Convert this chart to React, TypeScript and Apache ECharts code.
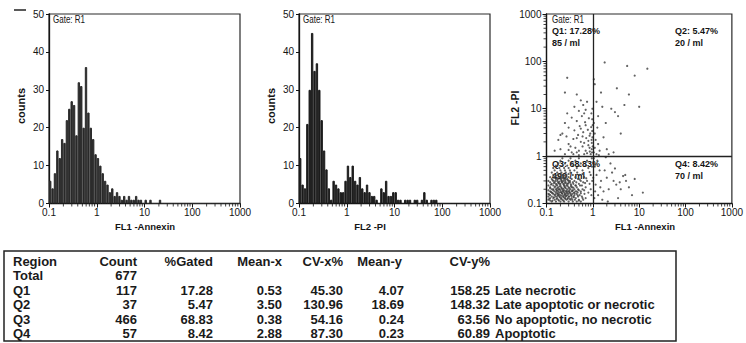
import React, { useEffect, useRef } from 'react';
import * as echarts from 'echarts';

// ---- Histogram data: counts per bin, 20 bins per decade from 0.1 to 1000 ----
const annexinCounts = [
  6, 4, 8, 14, 12, 17, 16, 22, 25, 27,
  26, 18, 32, 31, 20, 36, 24, 20, 17, 13,
  12, 10, 8, 6, 5, 3, 4, 2, 3, 2,
  1, 2, 1, 2, 1, 1, 2, 1, 1, 0,
  1, 0, 1, 0, 0, 0, 1, 0, 0, 0,
  0, 0, 0, 0, 0, 0, 0, 0, 0, 0,
  0, 0, 0, 0, 0, 0, 0, 0, 0, 0,
  0, 0, 0, 0, 0, 0, 0, 0, 0, 0,
];
const piCounts = [
  12, 5, 4, 21, 30, 45, 35, 37, 30, 22,
  14, 9, 4, 1, 6, 5, 4, 3, 3, 6,
  10, 7, 10, 6, 5, 7, 4, 3, 5, 3,
  2, 2, 1, 0, 4, 3, 6, 2, 2, 3,
  3, 1, 1, 0, 1, 1, 1, 0, 1, 1,
  0, 1, 3, 1, 0, 1, 1, 1, 0, 0,
  0, 0, 0, 0, 0, 0, 0, 0, 0, 0,
  0, 0, 0, 0, 0, 0, 0, 0, 0, 0,
];
const countTicks = [0, 10, 20, 30, 40, 50];
const logTickLabels = ['0.1', '1', '10', '100', '1000'];
const minorTickValues = [
  0.2, 0.3, 0.4, 0.5, 0.6, 0.7, 0.8, 0.9,
  2, 3, 4, 5, 6, 7, 8, 9,
  20, 30, 40, 50, 60, 70, 80, 90,
  200, 300, 400, 500, 600, 700, 800, 900,
];

// ---- Dot plot events (FL1 Annexin, FL2 PI) ----
const q3Events = [
  [0.13, 0.11], [0.16, 0.11], [0.2, 0.11], [0.24, 0.11], [0.3, 0.11], [0.37, 0.11], [0.45, 0.11], [0.55, 0.11],
  [0.11, 0.12], [0.15, 0.12], [0.18, 0.12], [0.22, 0.12], [0.27, 0.12], [0.33, 0.12], [0.41, 0.12], [0.5, 0.12], [0.62, 0.12],
  [0.12, 0.13], [0.14, 0.13], [0.17, 0.13], [0.21, 0.13], [0.25, 0.13], [0.29, 0.13], [0.35, 0.13], [0.43, 0.13], [0.7, 0.13],
  [0.11, 0.14], [0.13, 0.14], [0.16, 0.14], [0.19, 0.14], [0.23, 0.14], [0.26, 0.14], [0.31, 0.14], [0.38, 0.14], [0.48, 0.14], [0.58, 0.14],
  [0.12, 0.15], [0.15, 0.15], [0.18, 0.15], [0.2, 0.15], [0.24, 0.15], [0.28, 0.15], [0.34, 0.15], [0.4, 0.15], [0.52, 0.15],
  [0.11, 0.16], [0.14, 0.16], [0.17, 0.16], [0.22, 0.16], [0.25, 0.16], [0.3, 0.16], [0.36, 0.16], [0.44, 0.16], [0.66, 0.16],
  [0.13, 0.17], [0.16, 0.17], [0.19, 0.17], [0.21, 0.17], [0.27, 0.17], [0.32, 0.17], [0.39, 0.17], [0.47, 0.17], [0.8, 0.17],
  [0.12, 0.18], [0.15, 0.18], [0.18, 0.18], [0.23, 0.18], [0.26, 0.18], [0.29, 0.18], [0.35, 0.18], [0.42, 0.18], [0.55, 0.18],
  [0.11, 0.19], [0.14, 0.19], [0.17, 0.19], [0.2, 0.19], [0.24, 0.19], [0.31, 0.19], [0.37, 0.19], [0.5, 0.19],
  [0.13, 0.2], [0.16, 0.2], [0.19, 0.2], [0.22, 0.2], [0.28, 0.2], [0.33, 0.2], [0.4, 0.2], [0.6, 0.2], [0.9, 0.2],
  [0.12, 0.22], [0.15, 0.22], [0.18, 0.22], [0.21, 0.22], [0.25, 0.22], [0.3, 0.22], [0.36, 0.22], [0.45, 0.22], [0.7, 0.22],
  [0.11, 0.24], [0.14, 0.24], [0.17, 0.24], [0.2, 0.24], [0.24, 0.24], [0.27, 0.24], [0.34, 0.24], [0.42, 0.24], [0.53, 0.24],
  [0.13, 0.26], [0.16, 0.26], [0.19, 0.26], [0.23, 0.26], [0.29, 0.26], [0.38, 0.26], [0.5, 0.26], [0.85, 0.26],
  [0.12, 0.28], [0.15, 0.28], [0.18, 0.28], [0.22, 0.28], [0.26, 0.28], [0.32, 0.28], [0.44, 0.28], [0.62, 0.28],
  [0.11, 0.3], [0.14, 0.3], [0.17, 0.3], [0.21, 0.3], [0.25, 0.3], [0.3, 0.3], [0.4, 0.3], [0.55, 0.3], [0.75, 0.3],
  [0.13, 0.33], [0.16, 0.33], [0.2, 0.33], [0.24, 0.33], [0.28, 0.33], [0.35, 0.33], [0.48, 0.33],
  [0.12, 0.36], [0.15, 0.36], [0.19, 0.36], [0.23, 0.36], [0.3, 0.36], [0.42, 0.36], [0.65, 0.36],
  [0.14, 0.4], [0.18, 0.4], [0.22, 0.4], [0.27, 0.4], [0.37, 0.4], [0.52, 0.4], [0.9, 0.4],
  [0.13, 0.45], [0.17, 0.45], [0.21, 0.45], [0.26, 0.45], [0.33, 0.45], [0.46, 0.45],
  [0.15, 0.5], [0.2, 0.5], [0.25, 0.5], [0.32, 0.5], [0.6, 0.5],
  [0.14, 0.56], [0.19, 0.56], [0.24, 0.56], [0.3, 0.56], [0.45, 0.56], [0.8, 0.56],
  [0.16, 0.63], [0.22, 0.63], [0.28, 0.63], [0.38, 0.63], [0.7, 0.63],
  [0.18, 0.7], [0.25, 0.7], [0.35, 0.7], [0.55, 0.7],
  [0.2, 0.8], [0.3, 0.8], [0.42, 0.8], [0.75, 0.8],
  [0.22, 0.9], [0.33, 0.9], [0.5, 0.9], [0.95, 0.9],
];
const q3CoreEvents = [
  [0.115, 0.125], [0.135, 0.115], [0.145, 0.135], [0.165, 0.125], [0.175, 0.145], [0.185, 0.115], [0.195, 0.135],
  [0.205, 0.125], [0.215, 0.145], [0.23, 0.115], [0.235, 0.135], [0.255, 0.125], [0.265, 0.145], [0.285, 0.125],
  [0.3, 0.14], [0.32, 0.125], [0.345, 0.145], [0.36, 0.12], [0.39, 0.135], [0.115, 0.155], [0.125, 0.175],
  [0.135, 0.165], [0.155, 0.155], [0.165, 0.185], [0.175, 0.165], [0.185, 0.155], [0.205, 0.175], [0.215, 0.165],
  [0.225, 0.185], [0.24, 0.17], [0.255, 0.155], [0.27, 0.185], [0.28, 0.165], [0.31, 0.175], [0.33, 0.16],
  [0.36, 0.185], [0.4, 0.165], [0.45, 0.18], [0.12, 0.21], [0.14, 0.2], [0.155, 0.23], [0.17, 0.21],
  [0.185, 0.2], [0.195, 0.23], [0.21, 0.21], [0.23, 0.205], [0.245, 0.23], [0.26, 0.21], [0.285, 0.235],
  [0.31, 0.21], [0.34, 0.225], [0.38, 0.215], [0.43, 0.24], [0.125, 0.25], [0.145, 0.27], [0.165, 0.25],
  [0.18, 0.27], [0.2, 0.26], [0.215, 0.28], [0.235, 0.25], [0.25, 0.27], [0.275, 0.26], [0.3, 0.275],
  [0.335, 0.255], [0.37, 0.28], [0.135, 0.31], [0.155, 0.3], [0.175, 0.32], [0.19, 0.29], [0.21, 0.31],
  [0.23, 0.3], [0.26, 0.32], [0.29, 0.31], [0.32, 0.3], [0.145, 0.35], [0.17, 0.34], [0.2, 0.36],
  [0.215, 0.34], [0.25, 0.35], [0.27, 0.37], [0.16, 0.39], [0.2, 0.42], [0.24, 0.39], [0.3, 0.42],
  [0.12, 0.115], [0.5, 0.115], [0.6, 0.13], [0.47, 0.15], [0.55, 0.165], [0.65, 0.19], [0.48, 0.2],
  [0.58, 0.24], [0.68, 0.27], [0.52, 0.32], [0.72, 0.34], [0.6, 0.42], [0.4, 0.5], [0.5, 0.62],
  [0.85, 0.46], [0.96, 0.6], [0.97, 0.3], [0.93, 0.15],
];
const q1Events = [
  [0.25, 1.1], [0.35, 1.2], [0.5, 1.05], [0.7, 1.3], [0.9, 1.1], [0.2, 1.4], [0.42, 1.5], [0.6, 1.6],
  [0.8, 1.7], [0.3, 1.8], [0.55, 2], [0.95, 1.9], [0.18, 2.2], [0.38, 2.3], [0.72, 2.4], [0.27, 2.6],
  [0.48, 2.8], [0.85, 2.7], [0.22, 3], [0.62, 3.2], [0.4, 3.5], [0.78, 3.6], [0.3, 4], [0.52, 4.3],
  [0.92, 4.1], [0.25, 5], [0.45, 5.5], [0.68, 5.2], [0.35, 6.5], [0.58, 7], [0.82, 6.3], [0.28, 8],
  [0.5, 9], [0.7, 9.5], [0.4, 11], [0.62, 12], [0.55, 15], [0.75, 14], [0.45, 20], [0.25, 22],
  [0.28, 45], [0.65, 8], [0.88, 3], [0.95, 1.4], [0.15, 1.3], [0.33, 1.6], [0.2, 2.8], [0.75, 1.15],
  [0.98, 2.5], [0.97, 6], [0.96, 1.2], [0.99, 1.6], [0.94, 2.2], [0.97, 3.4], [0.99, 4.5], [0.93, 8],
  [0.98, 10], [0.86, 1.25], [0.8, 2.1], [0.65, 1.9], [0.5, 1.3], [0.45, 2.4], [0.6, 2.6], [0.7, 4.5],
  [0.55, 3.8], [0.38, 1.1], [0.3, 1.35], [0.45, 1.2], [0.65, 1.1], [0.85, 1.5],
];
const q2Events = [
  [1.05, 1.2], [1.1, 1.5], [1.2, 1.1], [1.3, 1.8], [1.15, 2.2], [1.4, 1.3], [1.1, 3], [1.25, 4],
  [1.05, 5], [1.3, 7], [1.6, 11], [2.5, 10], [3, 8.5], [3.5, 7], [4.8, 12], [3.3, 27], [1.1, 33],
  [1.05, 42], [1.8, 95], [5.5, 80], [8, 50], [15, 70], [2, 1.4], [1.7, 2.5], [2.8, 1.2], [4, 3],
  [1.2, 14], [1.5, 22], [6, 20], [10, 11], [1.9, 5], [2.2, 1.1], [1.35, 1.05],
];
const q4Events = [
  [1.05, 0.9], [1.1, 0.6], [1.2, 0.4], [1.15, 0.25], [1.3, 0.15], [1.4, 0.5], [1.5, 0.3], [1.6, 0.12],
  [1.8, 0.5], [2, 0.35], [2.2, 0.2], [2.4, 0.7], [2.8, 0.3], [3.2, 0.25], [3.5, 0.13], [4, 0.2],
  [4.5, 0.38], [5, 0.4], [5.2, 0.3], [6, 0.22], [7, 0.15], [12, 0.17], [1.08, 0.13], [1.25, 0.8],
  [1.7, 0.18], [2.6, 0.45], [3.8, 0.28], [1.02, 0.35], [1.12, 0.18], [1.45, 0.22], [2.1, 0.11],
  [3, 0.55], [8, 0.33], [1.9, 0.95],
];
const quadrantLabels = [
  ['Q1: 17.28%', '85 / ml'],
  ['Q2: 5.47%', '20 / ml'],
  ['Q3: 68.83%', '490 / ml'],
  ['Q4: 8.42%', '70 / ml'],
];

// ---- Statistics table ----
const tableHeaders = ['Region', 'Count', '%Gated', 'Mean-x', 'CV-x%', 'Mean-y', 'CV-y%'];
const regions = ['Total', 'Q1', 'Q2', 'Q3', 'Q4'];
const counts = ['677', '117', '37', '466', '57'];
const gated = ['', '17.28', '5.47', '68.83', '8.42'];
const meanX = ['', '0.53', '3.50', '0.38', '2.88'];
const cvX = ['', '45.30', '130.96', '54.16', '87.30'];
const meanY = ['', '4.07', '18.69', '0.24', '0.23'];
const cvY = ['', '158.25', '148.32', '63.56', '60.89'];
const descriptions = ['', 'Late necrotic', 'Late apoptotic or necrotic', 'No apoptotic, no necrotic', 'Apoptotic'];

const FONT = '"Liberation Sans", Arial, sans-serif';
const INK = '#151515';

export default function App() {
  const ref = useRef<HTMLDivElement>(null);

  useEffect(() => {
    if (!ref.current) return;
    const chart = echarts.init(ref.current, undefined, { renderer: 'svg' });

    const binNames = annexinCounts.map((_, i) => 'b' + i);
    const fmtLog = (v: number) => String(+Number(v).toPrecision(6));

    const logAxisBase = (gridIndex: number) => ({
      type: 'log' as const,
      gridIndex,
      position: 'bottom' as const,
      logBase: 10,
      min: 0.1,
      max: 1000,
      axisLine: { show: true, lineStyle: { color: INK, width: 1.3 } },
      axisTick: { show: true, inside: false, length: 4, lineStyle: { color: INK, width: 1 } },
      axisLabel: {
        show: true, margin: 4, fontSize: 10, color: INK, fontFamily: FONT,
        formatter: (v: number) => {
          const s = fmtLog(v);
          return logTickLabels.includes(s) ? s : '';
        },
      },
      splitLine: { show: false },
      minorTick: { show: false },
    });

    const countAxis = (gridIndex: number) => ({
      type: 'value' as const,
      gridIndex,
      min: countTicks[0],
      max: countTicks[countTicks.length - 1],
      interval: 10,
      axisLine: { show: true, lineStyle: { color: INK, width: 1.3 } },
      axisTick: { show: true, inside: false, length: 3, lineStyle: { color: INK } },
      axisLabel: { margin: 5, fontSize: 10, color: INK, fontFamily: FONT },
      splitLine: { show: false },
    });

    const gridBase = { show: true, borderColor: '#2a2a2a', borderWidth: 1.2, backgroundColor: 'transparent', containLabel: false };

    const minorX = (xAxisIndex: number, yAxisIndex: number, yVal: number) => ({
      type: 'scatter' as const,
      xAxisIndex, yAxisIndex,
      data: minorTickValues.map((v) => [v, yVal]),
      symbol: 'rect',
      symbolSize: [1, 3],
      symbolOffset: [0, 1.5],
      itemStyle: { color: INK },
      clip: false, silent: true, z: 5,
    });

    const allEvents = [...q3Events, ...q3CoreEvents, ...q1Events, ...q2Events, ...q4Events];

    const text = (x: number, y: number, str: string, opts: any = {}) => ({
      type: 'text',
      x, y,
      rotation: opts.rotation || 0,
      scaleX: opts.scaleX || 1,
      silent: true,
      style: {
        text: str,
        fill: opts.fill || INK,
        fontSize: opts.fontSize || 10,
        fontWeight: opts.fontWeight || 'normal',
        fontFamily: FONT,
        align: opts.align || 'left',
        verticalAlign: 'middle',
        textAlign: opts.align || 'left',
        textVerticalAlign: 'middle',
      },
    });

    // table
    const rowY = [261, 275.5, 290, 304.5, 319, 333.5];
    const colRight = [0, 137, 213, 282, 343, 404, 490];
    const tableFont = { fontSize: 13, fontWeight: 'bold', fill: '#1a1a1a' };
    const tableEls: any[] = [];
    tableEls.push({
      type: 'rect', silent: true,
      shape: { x: 4, y: 251, width: 672, height: 90 },
      style: { fill: 'none', stroke: '#222', lineWidth: 1.5 },
    });
    tableHeaders.forEach((h, i) => {
      if (i === 0) tableEls.push(text(13, rowY[0], h, tableFont));
      else tableEls.push(text(i === 5 ? 402 : colRight[i], rowY[0], h, { ...tableFont, align: 'right' }));
    });
    const columns = [counts, gated, meanX, cvX, meanY, cvY];
    regions.forEach((r, ri) => {
      const y = rowY[ri + 1];
      tableEls.push(text(13, y, r, tableFont));
      columns.forEach((col, ci) => {
        if (col[ri]) tableEls.push(text(colRight[ci + 1], y, col[ri], { ...tableFont, align: 'right' }));
      });
      if (descriptions[ri]) tableEls.push(text(495, y, descriptions[ri], tableFont));
    });

    const barStyle = (c: string) => ({ color: c, borderColor: c, borderWidth: 1 });

    const option: any = {
      animation: false,
      backgroundColor: '#ffffff',
      grid: [
        { ...gridBase, left: 49, top: 14, width: 191, height: 189.5 },
        { ...gridBase, left: 299, top: 14, width: 191, height: 189.5 },
        { ...gridBase, left: 546.5, top: 14, width: 193.5, height: 189.5 },
      ],
      xAxis: [
        { type: 'category', gridIndex: 0, position: 'top', data: binNames, show: false, boundaryGap: true },
        logAxisBase(0),
        { type: 'category', gridIndex: 1, position: 'top', data: binNames, show: false, boundaryGap: true },
        logAxisBase(1),
        logAxisBase(2),
      ],
      yAxis: [
        countAxis(0),
        countAxis(1),
        {
          type: 'log', gridIndex: 2, logBase: 10, min: 0.1, max: 1000,
          axisLine: { show: true, lineStyle: { color: INK, width: 1.3 } },
          axisTick: { show: true, inside: false, length: 4, lineStyle: { color: INK } },
          axisLabel: {
            margin: 5, fontSize: 10, color: INK, fontFamily: FONT,
            formatter: (v: number) => {
              const s = fmtLog(v);
              return logTickLabels.includes(s) ? s : '';
            },
          },
          splitLine: { show: false },
        },
      ],
      series: [
        {
          type: 'bar', xAxisIndex: 0, yAxisIndex: 0, data: annexinCounts,
          barCategoryGap: '0%', barGap: '0%',
          itemStyle: barStyle('#2a2a2a'), silent: true,
        },
        minorX(1, 0, 0),
        {
          type: 'bar', xAxisIndex: 2, yAxisIndex: 1, data: piCounts,
          barCategoryGap: '0%', barGap: '0%',
          itemStyle: barStyle('#1c1c1c'), silent: true,
        },
        minorX(3, 1, 0),
        {
          type: 'scatter', xAxisIndex: 4, yAxisIndex: 2,
          data: allEvents,
          symbol: 'circle', symbolSize: 2.2,
          itemStyle: { color: '#3c3c3c' },
          silent: true,
          markLine: {
            silent: true, symbol: 'none',
            lineStyle: { color: '#222', width: 1.3, type: 'solid' },
            label: { show: false },
            data: [{ xAxis: 1 }, { yAxis: 1 }],
          },
        },
        minorX(4, 2, 0.1),
        {
          type: 'scatter', xAxisIndex: 4, yAxisIndex: 2,
          data: minorTickValues.map((v) => [0.1, v]),
          symbol: 'rect', symbolSize: [3, 1], symbolOffset: [-1.5, 0],
          itemStyle: { color: INK }, clip: false, silent: true, z: 5,
        },
      ],
      graphic: [
        { type: 'line', silent: true, shape: { x1: 14, y1: 10, x2: 26, y2: 10 }, style: { stroke: '#222', lineWidth: 1.5 } },
        text(21, 106, 'counts', { rotation: Math.PI / 2, fontWeight: 'bold', fontSize: 11, align: 'center' }),
        text(271, 106, 'counts', { rotation: Math.PI / 2, fontWeight: 'bold', fontSize: 11, align: 'center' }),
        text(515, 108, 'FL2 -PI', { rotation: Math.PI / 2, fontWeight: 'bold', fontSize: 10.5, align: 'center' }),
        text(145, 226, 'FL1 -Annexin', { fontWeight: 'bold', fontSize: 9.5, align: 'center' }),
        text(370, 226, 'FL2 -PI', { fontWeight: 'bold', fontSize: 9.5, align: 'center' }),
        text(645, 226, 'FL1 -Annexin', { fontWeight: 'bold', fontSize: 9.5, align: 'center' }),
        text(53, 20, 'Gate: R1', { fontSize: 10, scaleX: 0.8 }),
        text(303, 20, 'Gate: R1', { fontSize: 10, scaleX: 0.8 }),
        text(552, 20, 'Gate: R1', { fontSize: 10, scaleX: 0.8 }),
        text(552, 31, quadrantLabels[0][0], { fontWeight: 'bold', fontSize: 9 }),
        text(552, 43, quadrantLabels[0][1], { fontWeight: 'bold', fontSize: 9 }),
        text(675, 31, quadrantLabels[1][0], { fontWeight: 'bold', fontSize: 9 }),
        text(675, 43, quadrantLabels[1][1], { fontWeight: 'bold', fontSize: 9 }),
        text(552, 164, quadrantLabels[2][0], { fontWeight: 'bold', fontSize: 9 }),
        text(552, 176, quadrantLabels[2][1], { fontWeight: 'bold', fontSize: 9 }),
        text(675, 164, quadrantLabels[3][0], { fontWeight: 'bold', fontSize: 9 }),
        text(675, 176, quadrantLabels[3][1], { fontWeight: 'bold', fontSize: 9 }),
        ...tableEls,
      ],
    };

    chart.setOption(option);
    return () => chart.dispose();
  }, []);

  return (
    <div
      ref={ref}
      style={{ position: 'absolute', left: 0, top: 0, width: 746, height: 343, background: '#fff' }}
    />
  );
}
